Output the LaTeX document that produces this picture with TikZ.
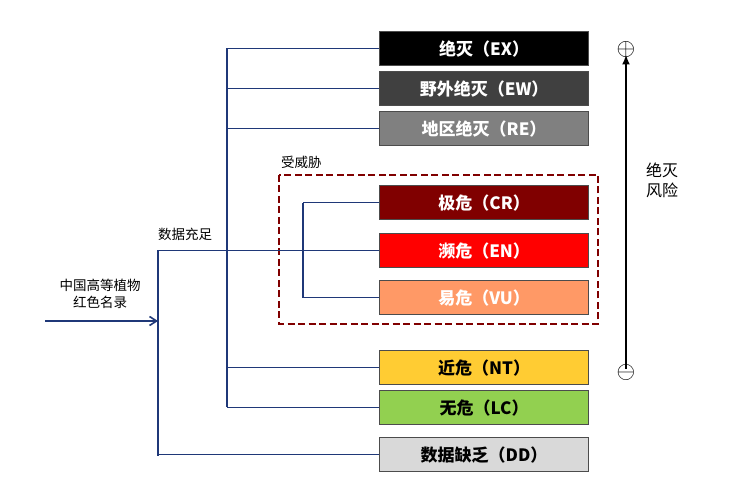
\documentclass[tikz,border=0pt]{standalone}
\usepackage{fontspec}
\setmainfont{Noto Sans CJK SC}
\usetikzlibrary{positioning,arrows.meta}
\definecolor{linkblue}{RGB}{31,56,120}
\definecolor{ewgray}{RGB}{64,64,64}
\definecolor{regray}{RGB}{128,128,128}
\definecolor{crred}{RGB}{128,0,0}
\definecolor{vuorange}{RGB}{255,153,102}
\definecolor{ntyellow}{RGB}{255,204,51}
\definecolor{lcgreen}{RGB}{146,208,80}
\definecolor{ddgray}{RGB}{217,217,217}
\tikzset{
  cat/.style={draw=black!70,line width=1.2pt,minimum width=209pt,minimum height=34pt,
    inner sep=0pt,font=\bfseries\fontsize{17}{17}\selectfont,text=white},
  link/.style={draw=linkblue,line width=1.6pt},
  lab/.style={font=\fontsize{13.5}{17}\selectfont,align=center}
}
\begin{document}
\begin{tikzpicture}[x=1pt,y=-1pt]
  \useasboundingbox (0,0) rectangle (750,494);
  % categories
  \node[cat,fill=black,anchor=north west] (ex) at (379,31) {绝灭（EX）};
  \node[cat,fill=ewgray,anchor=north west] (ew) at (379,71) {野外绝灭（EW）};
  \node[cat,fill=regray,anchor=north west] (re) at (379,111) {地区绝灭（RE）};
  \node[cat,fill=crred,anchor=north west] (cr) at (379,185) {极危（CR）};
  \node[cat,fill=red,anchor=north west] (en) at (379,233) {濒危（EN）};
  \node[cat,fill=vuorange,anchor=north west] (vu) at (379,280) {易危（VU）};
  \node[cat,fill=ntyellow,text=black,anchor=north west] (nt) at (379,350) {近危（NT）};
  \node[cat,fill=lcgreen,text=black,anchor=north west] (lc) at (379,390) {无危（LC）};
  \node[cat,fill=ddgray,text=black,anchor=north west] (dd) at (379,437) {数据缺乏（DD）};
  % threatened frame
  \draw[crred,line width=2.4pt,dash pattern=on 7pt off 3.5pt] (279,175) rectangle (598,324);
  \node[lab,anchor=south west,inner sep=1pt] (thr) at (280,170) {受威胁};
  % root
  \node[lab] (root) at (100,294) {中国高等植物\\红色名录};
  \coordinate (src) at (45,321);
  \coordinate (j1) at (158,321);
  \draw[link,-{Straight Barb[length=7pt,width=9pt]}] (src) -- (j1);
  \draw[link] (158,455) |- (dd.west);
  \draw[link] (158,455) |- (en.west);
  \node[lab,anchor=south west,inner sep=1pt] (ok) at (157,242) {数据充足};
  % level 2
  \draw[link] (227,407) |- (ex.west);
  \foreach \n in {ew,re,nt,lc} \draw[link] (227,0 |- \n.west) -- (\n.west);
  % level 3
  \draw[link] (303,0 |- cr.west) |- (vu.west);
  \draw[link] (303,0 |- cr.west) -- (cr.west);
  % risk axis
  \node[inner sep=0pt,scale=2.4] (plus) at (626,50) {$\oplus$};
  \node[inner sep=0pt,scale=2.4] (minus) at (626,373) {$\ominus$};
  \draw[line width=2pt,-{Latex[length=10pt,width=8pt]}] ([yshift=-4pt]minus.north) -- ([yshift=4pt]plus.south);
  \node[lab,font=\fontsize{16}{20}\selectfont] (risk) at (662,180) {绝灭\\风险};
\end{tikzpicture}
\end{document}
